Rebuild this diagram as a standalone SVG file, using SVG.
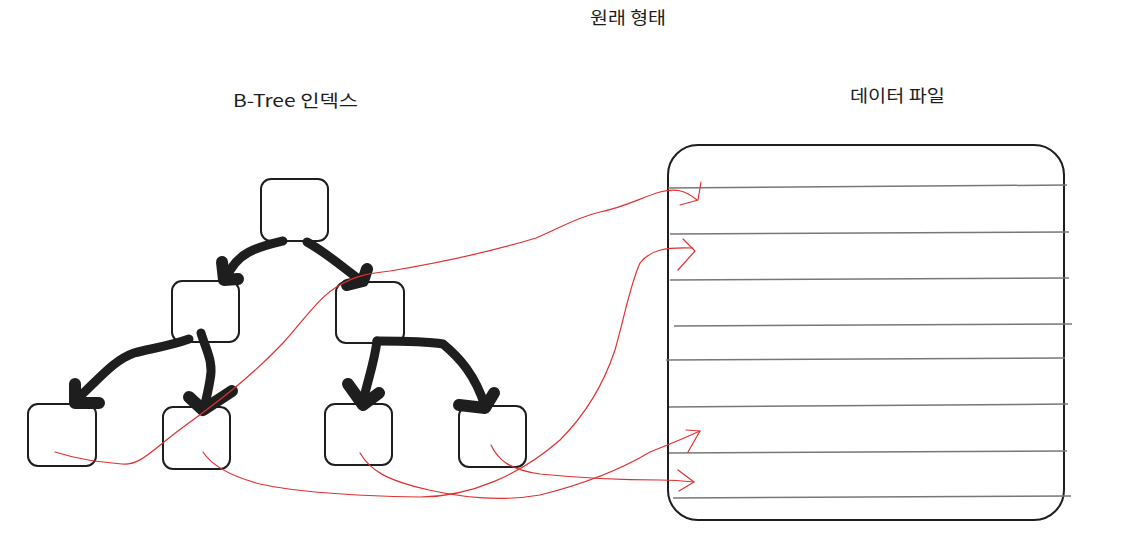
<svg xmlns="http://www.w3.org/2000/svg" width="1142" height="545" viewBox="0 0 1142 545">
  <style>
    .box { fill: #ffffff; stroke: #1e1e1e; stroke-width: 2; }
    .thick { fill: none; stroke: #1e1e1e; stroke-width: 9; stroke-linecap: round; stroke-linejoin: round; }
    .head { fill: none; stroke: #1e1e1e; stroke-width: 12; stroke-linecap: round; stroke-linejoin: round; }
    .red { fill: none; stroke: #e03131; stroke-width: 1.2; stroke-linecap: round; stroke-linejoin: round; }
    .row { stroke: #777777; stroke-width: 1.5; }
    .lbl { font-family: "Noto Sans CJK KR", "Noto Sans", sans-serif; font-size: 17px; fill: #1e1e1e; }
  </style>
  <rect width="1142" height="545" fill="#ffffff"/>

  <text class="lbl" x="590" y="24" textLength="76" lengthAdjust="spacingAndGlyphs">원래 형태</text>
  <text class="lbl" x="233" y="107" textLength="125" lengthAdjust="spacingAndGlyphs">B-Tree 인덱스</text>
  <text class="lbl" x="850" y="102" textLength="95" lengthAdjust="spacingAndGlyphs">데이터 파일</text>

  <g id="root"><rect class="box" x="261" y="179" width="67" height="62" rx="10"/></g>
  <g id="mid-left"><rect class="box" x="172" y="281" width="67" height="61" rx="10"/></g>
  <g id="mid-right"><rect class="box" x="336" y="282" width="68" height="61" rx="10"/></g>
  <g id="leaf1"><rect class="box" x="28" y="404" width="68" height="62" rx="10"/></g>
  <g id="leaf2"><rect class="box" x="163" y="407" width="67" height="62" rx="10"/></g>
  <g id="leaf3"><rect class="box" x="325" y="404" width="67" height="61" rx="10"/></g>
  <g id="leaf4"><rect class="box" x="459" y="406" width="67" height="61" rx="10"/></g>

  <g id="data-file">
    <rect class="box" x="668" y="145" width="396" height="375" rx="30"/>
    <line class="row" x1="668" y1="188" x2="1067" y2="185"/>
    <line class="row" x1="670" y1="234" x2="1069" y2="232"/>
    <line class="row" x1="670" y1="280" x2="1069" y2="278"/>
    <line class="row" x1="674" y1="326" x2="1072" y2="324"/>
    <line class="row" x1="666" y1="360" x2="1065" y2="358"/>
    <line class="row" x1="669" y1="407" x2="1068" y2="404"/>
    <line class="row" x1="669" y1="453" x2="1067" y2="451"/>
    <line class="row" x1="673" y1="498" x2="1071" y2="496"/>
  </g>

  <g id="connectors">
    <path class="thick" d="M283,241 C258,247 236,252 226,279"/>
    <path class="head" d="M222,262 L224,280 L238,279"/>
    <path class="thick" d="M307,242 C325,252 340,265 360,280"/>
    <path class="head" d="M367,269 L363,281 L347,285"/>
    <path class="thick" d="M189,339 C170,346 148,349 134,353 C114,360 100,378 76,400"/>
    <path class="head" d="M75,384 L75,403 L99,403"/>
    <path class="thick" d="M201,333 C206,350 214,362 210,380 C208,392 206,400 204,408"/>
    <path class="head" d="M189,397 L203,410 L232,391"/>
    <path class="thick" d="M377,341 C374,365 366,385 363,403"/>
    <path class="head" d="M348,384 L363,405 L379,393"/>
    <path class="thick" d="M377,341 C400,341 425,341 443,344 C460,358 475,375 485,406"/>
    <path class="head" d="M459,405 L485,408 L494,393"/>

    <path class="red" d="M55,452 C80,460 100,462 122,464 C140,466 152,450 182,428 C212,406 248,380 283,343 C300,325 320,295 340,285 C355,276 370,273 390,271 C420,266 480,255 536,238 C560,228 575,218 600,212 C625,207 640,198 660,192 C675,188 685,190 697,200"/>
    <path class="red" d="M680,205 L698,200 L701,182"/>
    <path class="red" d="M203,452 C212,466 230,476 260,484 C300,493 360,496 420,497 C470,497 520,475 560,440 C590,410 605,380 615,350 C625,315 630,285 640,263 C650,250 665,247 693,248"/>
    <path class="red" d="M683,239 L695,251 L678,270"/>
    <path class="red" d="M360,453 C370,470 385,480 429,490 C460,497 500,502 540,495 C580,485 620,470 650,452 C670,444 685,438 700,431"/>
    <path class="red" d="M688,452 L700,431 L686,430"/>
    <path class="red" d="M491,445 C498,460 510,470 540,474 C580,478 620,480 660,480 C675,480 685,481 694,482"/>
    <path class="red" d="M678,470 L694,482 L679,491"/>
  </g>
</svg>
